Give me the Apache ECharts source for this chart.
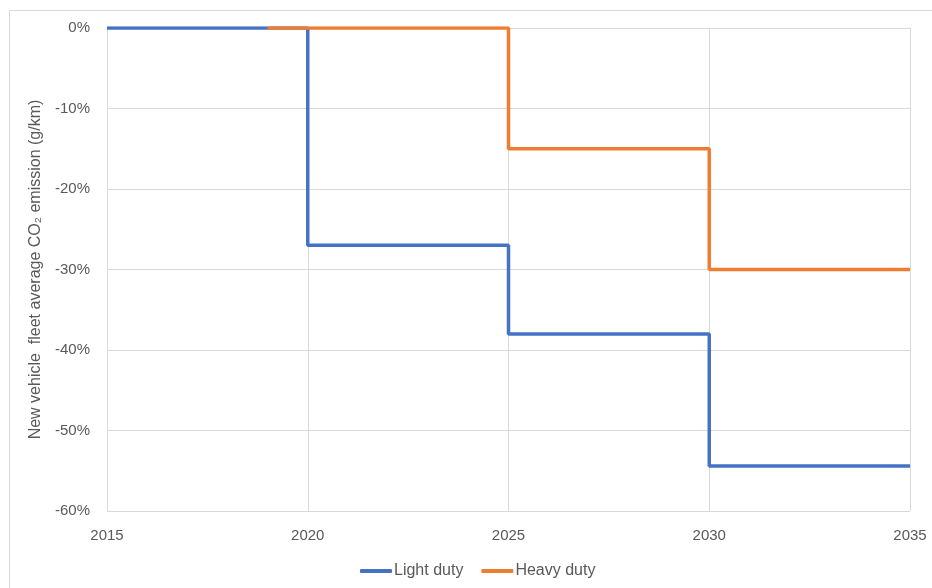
<!DOCTYPE html>
<html>
<head>
<meta charset="utf-8">
<script src="https://cdn.jsdelivr.net/npm/echarts@6/dist/echarts.min.js"></script>
<style>html,body{margin:0;padding:0;background:#fff}#c{width:932px;height:588px}</style>
</head>
<body>
<div id="c"></div>
<script>
var seriesNames = ['Light duty', 'Heavy duty'];
var lightYears = [2015, 2020, 2025, 2030, 2035];
var lightValues = [0, -27, -38, -54.4, -54.4];
var heavyYears = [2019, 2025, 2030, 2035];
var heavyValues = [0, -15, -30, -30];
var yAxisTitle = 'New vehicle  fleet average CO\u2082 emission (g/km)';

function pairs(xs, ys) { return xs.map(function (x, i) { return [x, ys[i]]; }); }

var font = '"Liberation Sans", "Noto Sans", sans-serif';
var chart = echarts.init(document.getElementById('c'), null, { renderer: 'canvas' });
chart.setOption({
  animation: false,
  backgroundColor: '#fff',
  textStyle: { fontFamily: font },
  graphic: [
    { type: 'line', shape: { x1: 9.5, y1: 10.5, x2: 940, y2: 10.5 }, style: { stroke: '#d9d9d9', lineWidth: 1 } },
    { type: 'line', shape: { x1: 9.5, y1: 10.5, x2: 9.5, y2: 600 }, style: { stroke: '#d9d9d9', lineWidth: 1 } }
  ],
  grid: { left: 107, right: 22, top: 28, bottom: 77, containLabel: false },
  legend: {
    bottom: 4, left: 355,
    itemWidth: 32, itemHeight: 4, itemGap: 18,
    icon: 'roundRect',
    textStyle: { color: '#595959', fontSize: 16, fontFamily: font, padding: [0, 0, 0, -3] },
    data: seriesNames
  },
  xAxis: {
    type: 'value', min: 2015, max: 2035, interval: 5,
    axisLine: { show: false },
    axisTick: { show: false },
    axisLabel: { color: '#595959', fontSize: 15, margin: 17, formatter: function (v) { return String(v); } },
    splitLine: { show: true, lineStyle: { color: '#d9d9d9', width: 1 } }
  },
  yAxis: {
    type: 'value', min: -60, max: 0, interval: 10,
    axisLine: { show: false },
    axisTick: { show: false },
    axisLabel: { color: '#595959', fontSize: 15, margin: 17, formatter: function (v) { return v + '%'; } },
    splitLine: { show: true, lineStyle: { color: '#d9d9d9', width: 1 } },
    name: yAxisTitle,
    nameLocation: 'middle',
    nameGap: 61,
    nameRotate: 90,
    nameTextStyle: { color: '#595959', fontSize: 16, fontFamily: font }
  },
  series: [
    {
      name: seriesNames[0], type: 'line', step: 'end', symbol: 'none',
      data: pairs(lightYears, lightValues),
      lineStyle: { color: '#4472C4', width: 3.5 }, itemStyle: { color: '#4472C4' },
      z: 2
    },
    {
      name: seriesNames[1], type: 'line', step: 'end', symbol: 'none',
      data: pairs(heavyYears, heavyValues),
      lineStyle: { color: '#ED7D31', width: 3.5 }, itemStyle: { color: '#ED7D31' },
      z: 3
    }
  ]
});
</script>
</body>
</html>
